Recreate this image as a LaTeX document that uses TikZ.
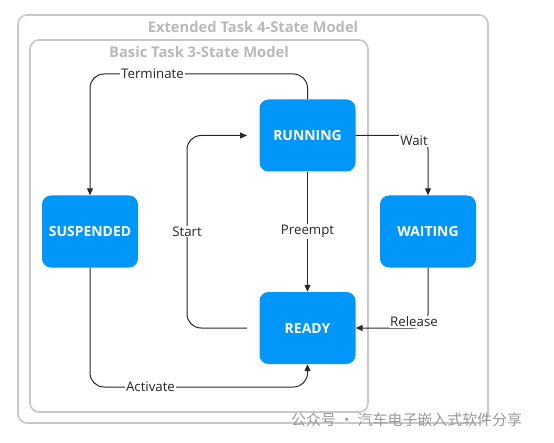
\documentclass[tikz,border=0pt]{standalone}
\usepackage{fontspec}
\setmainfont{Open Sans}
\newfontfamily\cjk{Noto Sans CJK SC}
\usetikzlibrary{arrows.meta}
\definecolor{boxblue}{RGB}{0,150,250}
\definecolor{framegray}{RGB}{200,200,200}
\definecolor{titlegray}{RGB}{185,185,185}
\definecolor{linegray}{RGB}{40,40,40}
\tikzset{
  state/.style={fill=boxblue, rounded corners=9bp, minimum width=96bp, minimum height=72bp,
     text=white, font=\fontsize{14}{16}\selectfont\bfseries, inner sep=0pt},
  frame/.style={draw=framegray, line width=1.6bp, rounded corners=9bp},
  ftitle/.style={text=titlegray, font=\fontsize{14.8}{17}\selectfont\bfseries},
  conn/.style={draw=linegray, line width=1bp, rounded corners=14bp},
  arr/.style={conn, -{Triangle[length=7bp,width=6bp]}},
  lbl/.style={fill=white, inner sep=1bp, text=black!85, font=\fontsize{13.3}{15}\selectfont},
}
\begin{document}
\begin{tikzpicture}[x=1bp,y=-1bp]
\useasboundingbox (0,0) rectangle (554,443);
% frames
\draw[frame] (18,15) rectangle (488,423);
\draw[frame] (30,40) rectangle (368,412);
\node[ftitle] (t1) at (253,27) {Extended Task 4-State Model};
\node[ftitle] (t2) at (199,52) {Basic Task 3-State Model};
% states
\node[state] (run) at (307.5,135.5) {RUNNING};
\node[state] (ready) at (307.5,328) {READY};
\node[state] (susp) at (90,231.5) {SUSPENDED};
\node[state] (wait) at (428,231.5) {WAITING};
% helper coordinates
\coordinate (termR) at (307.5,74);
\coordinate (termL) at (90,74);
\coordinate (actL) at (90,387);
\coordinate (actR) at (307.5,387);
\coordinate (startB) at (247,328);
\coordinate (startT) at (247,135.5);
\coordinate (startBL) at (187,328);
\coordinate (startTL) at (187,135.5);
\coordinate (waitC) at (428,135.5);
\coordinate (relC) at (428,328);
% connectors
\draw[arr] (run.north) -- (termR) -- (termL) -- (susp.north);
\draw[arr] (susp.south) -- (actL) -- (actR) -- (ready.south);
\draw[arr] (startB) -- (startBL) -- (startTL) -- (startT);
\draw[arr] (run.south) -- (ready.north);
\draw[arr] (run.east) -- (waitC) -- (wait.north);
\draw[arr] (wait.south) -- (relC) -- (ready.east);
% labels
\node[lbl] (lterm) at (152.5,74) {Terminate};
\node[lbl] (lact) at (150.5,387) {Activate};
\node[lbl] (lstart) at (187,231.5) {Start};
\node[lbl] (lpre) at (307.5,231.5) {Preempt};
\node[lbl] (lwait) at (414,141) {Wait};
\node[lbl] (lrel) at (414,322) {Release};
% watermark
\node[text=black!40, font=\cjk\fontsize{15}{17}\selectfont, anchor=west, inner sep=0pt] (wm) at (291,420) {公众号 · 汽车电子嵌入式软件分享};
\end{tikzpicture}
\end{document}
